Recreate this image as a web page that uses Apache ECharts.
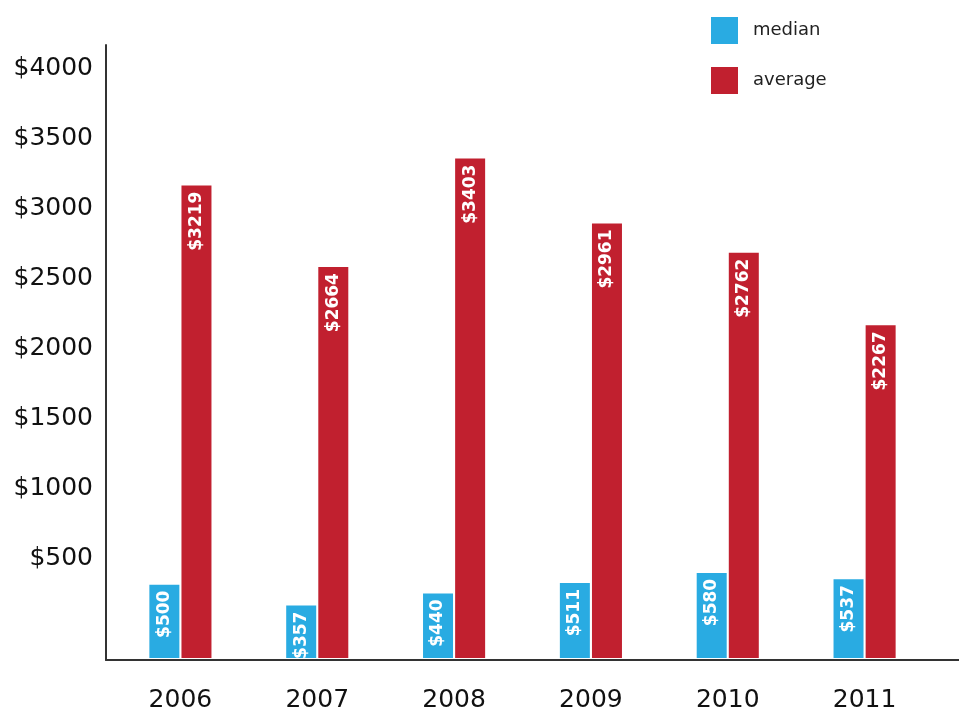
<!DOCTYPE html>
<html>
<head>
<meta charset="utf-8">
<script src="https://cdn.jsdelivr.net/npm/echarts@6/dist/echarts.min.js"></script>
<style>
  html, body { margin: 0; padding: 0; background: #fff; }
  #chart { width: 959px; height: 713px; }
</style>
</head>
<body>
<div id="chart"></div>
<script>
// Yearly figures, in dollars
const years = ['2006', '2007', '2008', '2009', '2010', '2011'];
const medianValues = [500, 357, 440, 511, 580, 537];
const averageValues = [3219, 2664, 3403, 2961, 2762, 2267];
const yTicks = { min: 0, max: 4000, step: 500 };

const BLUE = '#29abe2';
const RED = '#c1202f';
const FONT = 'DejaVu Sans';

const barLabel = {
  show: true,
  position: 'insideTop',
  rotate: 90,
  align: 'right',
  verticalAlign: 'middle',
  distance: 6,
  color: '#fff',
  fontFamily: FONT,
  fontWeight: 'bold',
  fontSize: 17,
  formatter: p => '$' + p.value
};

const chart = echarts.init(document.getElementById('chart'));
chart.setOption({
  backgroundColor: '#fff',
  animation: false,
  legend: {
    orient: 'vertical',
    left: 706,
    top: 12,
    itemWidth: 27,
    itemHeight: 27,
    itemGap: 23,
    icon: 'rect',
    textStyle: { fontFamily: FONT, fontSize: 18, color: '#222', padding: [0, 0, 0, 10] },
    data: ['median', 'average']
  },
  grid: [
    // bars
    { left: 112, width: 821, top: 71, bottom: 52 },
    // axis frame
    { left: 106, right: 0, top: 45, bottom: 53 },
    // dollar tick labels
    { left: 106, right: 0, top: 68, bottom: 85 }
  ],
  xAxis: [
    {
      gridIndex: 0, type: 'category', data: years,
      axisLine: { show: false }, axisTick: { show: false },
      axisLabel: { fontFamily: FONT, fontSize: 25, color: '#111', margin: 30 }
    },
    {
      gridIndex: 1, type: 'category', data: [''],
      axisLine: { show: true, lineStyle: { color: '#333', width: 2 } },
      axisTick: { show: false }, axisLabel: { show: false }
    },
    {
      gridIndex: 2, type: 'category', data: [''], show: false
    }
  ],
  yAxis: [
    {
      gridIndex: 0, type: 'value', min: yTicks.min, max: yTicks.max, interval: yTicks.step,
      axisLine: { show: false }, axisTick: { show: false },
      axisLabel: { show: false }, splitLine: { show: false }
    },
    {
      gridIndex: 1, type: 'value', min: 0, max: 1,
      axisLine: { show: true, lineStyle: { color: '#333', width: 2 } },
      axisTick: { show: false }, axisLabel: { show: false }, splitLine: { show: false }
    },
    {
      gridIndex: 2, type: 'value', min: yTicks.min, max: yTicks.max, interval: yTicks.step,
      axisLine: { show: false }, axisTick: { show: false }, splitLine: { show: false },
      axisLabel: {
        margin: 13, fontFamily: FONT, fontSize: 25, color: '#111',
        formatter: v => (v === 0 ? '' : '$' + v)
      }
    }
  ],
  series: [
    {
      name: 'median', type: 'bar', xAxisIndex: 0, yAxisIndex: 0,
      data: medianValues, barWidth: 30, barGap: '7%',
      itemStyle: { color: BLUE }, label: barLabel
    },
    {
      name: 'average', type: 'bar', xAxisIndex: 0, yAxisIndex: 0,
      data: averageValues, barWidth: 30, barGap: '7%',
      itemStyle: { color: RED }, label: barLabel
    }
  ]
});
</script>
</body>
</html>
